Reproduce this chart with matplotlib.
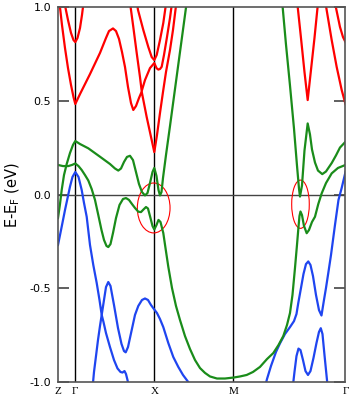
import numpy as np
from matplotlib import pyplot as plt
from matplotlib.patches import Ellipse

# high-symmetry points along the k-path
k_ticks = [0, 17.3, 96.3, 175.3, 287.5]
k_labels = ["Z", "Γ", "X", "M", "Γ"]

# conduction bands (red)
red_k1 = [1.5, 4, 7, 10, 13, 15.5, 17.3, 22, 32, 42, 48, 51, 55, 58, 61, 64, 67, 70, 73, 75.3, 78, 81, 83.7,
          88.7, 93.7, 96.3, 99, 102, 105, 108, 112, 115, 118]
red_e1 = [1.024, 0.906, 0.783, 0.676, 0.586, 0.521, 0.484, 0.537, 0.644, 0.757, 0.837, 0.874, 0.888, 0.874,
          0.832, 0.762, 0.682, 0.575, 0.489, 0.452, 0.473, 0.516, 0.550,
          0.414, 0.291, 0.227, 0.318, 0.436, 0.548, 0.655, 0.773, 0.880, 1.010]
red_k2 = [72, 73, 75.3, 78.7, 82, 83.7, 87, 92, 96.3, 98.5, 100.3, 102, 103.7, 106, 109, 112, 114]
red_e2 = [1.024, 0.987, 0.896, 0.757, 0.628, 0.553, 0.612, 0.676, 0.703, 0.676, 0.668, 0.671, 0.683,
          0.746, 0.842, 0.944, 1.024]
red_k3 = [79, 80, 85.3, 90.3, 93.7, 96.3, 98.7, 102, 105.3, 108]
red_e3 = [1.024, 0.987, 0.880, 0.789, 0.735, 0.719, 0.746, 0.826, 0.917, 1.019]
red_k4 = [6.5, 10, 13, 15.5, 17.3, 19.5, 22, 24, 25.5]
red_e4 = [1.024, 0.933, 0.864, 0.826, 0.815, 0.837, 0.890, 0.960, 1.024]
red_k5 = [239.3, 243, 246.5, 249.7, 253, 256.5, 260]
red_e5 = [1.024, 0.837, 0.655, 0.505, 0.666, 0.837, 1.024]
red_k6 = [267.5, 273.7, 278.7, 283.7, 287.5]
red_e6 = [1.024, 0.826, 0.682, 0.559, 0.484]
red_k7 = [277, 282, 285, 287.5]
red_e7 = [1.024, 0.896, 0.842, 0.815]

# bands near the Fermi level (green)
green_k1 = [0, 2, 3.7, 6, 8.7, 12, 15, 17.3, 22, 30.3, 42, 52, 57, 60.3, 63, 66, 69, 72, 75, 78, 81, 84,
            87, 89.5, 92, 94.5, 96.3, 98.5, 100.5, 102, 103.5, 105, 108, 112, 117, 122, 128.5]
green_e1 = [-0.126, -0.051, 0.024, 0.104, 0.163, 0.222, 0.265, 0.286, 0.270, 0.247, 0.202, 0.163, 0.139,
            0.128, 0.139, 0.174, 0.201, 0.207, 0.184, 0.120, 0.056, 0.013, -0.005, 0.008, 0.061, 0.120,
            0.142, 0.099, 0.024, -0.005, 0.013, 0.088, 0.211, 0.366, 0.564, 0.762, 1.019]
green_k1r = [224.3, 228, 232, 236, 239, 241, 242, 244, 246.5, 249.7, 252, 254, 257, 260, 264.3, 268,
             273.7, 278, 282, 287.5]
green_e1r = [1.024, 0.802, 0.583, 0.353, 0.155, 0.032, -0.011, 0.048, 0.235, 0.380, 0.321, 0.241, 0.171,
             0.128, 0.109, 0.123, 0.168, 0.209, 0.251, 0.282]
green_k2 = [0, 5, 10.3, 14, 17.3, 20.5, 23.7, 27, 30.3, 33.7, 37, 40.3, 43.5, 46, 48.5, 50.3, 52.5, 55, 58,
            61.5, 65, 68, 71, 74, 77, 80.3, 83, 85.5, 88, 90, 92.5, 94.5, 96.3, 98.5, 100.5, 102.5, 105.3,
            107.5, 110.3, 114, 118, 122, 127, 132, 137, 142, 147, 152, 159, 167, 175.3, 182, 188.7, 195,
            202, 209, 215.3, 220.5, 225.3, 229, 232, 234.5, 237, 239, 240.5, 241.5, 242.5, 244, 246,
            248.7, 251, 254, 257, 260.3, 263.7, 268, 273.7, 280, 287.5]
green_e2 = [0.158, 0.152, 0.152, 0.158, 0.166, 0.152, 0.131, 0.104, 0.075, 0.029, -0.029, -0.110, -0.190,
            -0.243, -0.275, -0.281, -0.265, -0.206, -0.126, -0.056, -0.024, -0.019, -0.029, -0.051,
            -0.072, -0.092, -0.094, -0.080, -0.067, -0.075, -0.126, -0.168, -0.187, -0.163, -0.136,
            -0.147, -0.206, -0.286, -0.386, -0.500, -0.596, -0.671, -0.757, -0.826, -0.885, -0.928,
            -0.954, -0.973, -0.984, -0.984, -0.979, -0.973, -0.965, -0.949, -0.922, -0.880, -0.848,
            -0.805, -0.757, -0.698, -0.634, -0.537, -0.393, -0.270, -0.174, -0.115, -0.091, -0.110,
            -0.168, -0.207, -0.190, -0.147, -0.119, -0.051, 0.006, 0.061, 0.113, 0.142, 0.158]

# valence bands (blue)
blue_k1 = [0, 3.7, 7, 10, 12, 14.5, 17.3, 20.5, 23.7, 26, 28.7, 32, 35.3, 38.7, 41.5, 43.7, 46, 48, 50.3,
           52.5, 56, 60, 63.5, 66, 67.7, 70, 73.7, 77, 80.3, 84, 87, 90, 93, 96.3, 99, 102, 105.3, 110.3,
           115.3, 120.3, 125, 130.3, 132]
blue_e1 = [-0.270, -0.172, -0.083, -0.008, 0.042, 0.094, 0.120, 0.094, 0.024, -0.045, -0.119, -0.270,
           -0.377, -0.473, -0.564, -0.644, -0.564, -0.495, -0.468, -0.489, -0.591, -0.714, -0.799, -0.837,
           -0.844, -0.816, -0.725, -0.644, -0.596, -0.564, -0.556, -0.564, -0.591, -0.615, -0.634, -0.666,
           -0.709, -0.794, -0.869, -0.922, -0.965, -1.003, -1.019]
blue_k2 = [34.8, 36, 38, 40, 42, 43.7, 45.5, 48, 52, 56, 59.5, 62.5, 64.5, 66.5, 68, 69.5, 70.5]
blue_e2 = [-1.019, -0.949, -0.864, -0.778, -0.703, -0.644, -0.682, -0.741, -0.816, -0.885, -0.930, -0.949,
           -0.952, -0.944, -0.960, -0.992, -1.019]
blue_k3 = [207.5, 209, 213, 218, 222, 227, 232, 236, 238.5, 240.3, 243, 245.5, 248, 250.3, 252.5, 255,
           258, 261, 263.5, 266, 268, 270.3, 273, 277, 280.5, 283.7, 287.5]
blue_e3 = [-1.019, -0.987, -0.917, -0.842, -0.796, -0.746, -0.709, -0.677, -0.639, -0.580, -0.500, -0.425,
           -0.372, -0.358, -0.377, -0.436, -0.537, -0.618, -0.647, -0.564, -0.500, -0.420, -0.324, -0.163,
           -0.029, 0.035, 0.120]
blue_k4 = [235, 236.5, 238.5, 240.5, 242.5, 245, 247.5, 250, 252.5, 255.5, 258.5, 261, 262.8, 264.5, 266.5,
           268.5, 269.5]
blue_e4 = [-1.019, -0.949, -0.864, -0.824, -0.832, -0.885, -0.944, -0.965, -0.944, -0.874, -0.794, -0.735,
           -0.715, -0.746, -0.858, -0.965, -1.019]

red = "#ff0000"
green = "#1a8c1a"
blue = "#1f45f0"
lw = 1.6

fig = plt.figure(figsize=(3.53, 4.05), dpi=100)
ax = fig.add_axes([0.1643, 0.058, 0.8144, 0.9235])

for kx, ey in [(blue_k1, blue_e1), (blue_k2, blue_e2), (blue_k3, blue_e3), (blue_k4, blue_e4)]:
    ax.plot(kx, ey, color=blue, lw=lw)
for kx, ey in [(green_k1, green_e1), (green_k1r, green_e1r), (green_k2, green_e2)]:
    ax.plot(kx, ey, color=green, lw=lw)
for kx, ey in [(red_k1, red_e1), (red_k2, red_e2), (red_k3, red_e3), (red_k4, red_e4),
               (red_k5, red_e5), (red_k6, red_e6), (red_k7, red_e7)]:
    ax.plot(kx, ey, color=red, lw=lw)

for kt in k_ticks[1:-1]:
    ax.axvline(kt, color="black", lw=1.0, zorder=0)
ax.axhline(0, color="#444444", lw=1.0, zorder=0)

ax.add_patch(Ellipse((95.7, -0.072), 32.7, 0.267, fill=False, edgecolor=red, lw=0.8))
ax.add_patch(Ellipse((242.5, -0.052), 17.6, 0.258, fill=False, edgecolor=red, lw=0.8))

ax.set_xlim(k_ticks[0], k_ticks[-1])
ax.set_ylim(-1.0, 1.0)
ax.set_xticks(k_ticks)
ax.set_xticklabels(k_labels, fontfamily="Liberation Serif", fontsize=8)
ax.set_yticks([-1.0, -0.5, 0.0, 0.5, 1.0])
ax.set_yticklabels(["-1.0", "-0.5", "0.0", "0.5", "1.0"], fontsize=8)
ax.tick_params(axis="x", length=0, pad=4)
ax.tick_params(axis="y", direction="in", length=8, width=1.2, color="#444444", right=True, pad=5)
ax.set_ylabel("E-E$_\\mathregular{F}$ (eV)", fontsize=10.5, labelpad=5)
for sp in ax.spines.values():
    sp.set_color("#555555")
    sp.set_linewidth(1.2)

plt.savefig("out.png", dpi=100)
